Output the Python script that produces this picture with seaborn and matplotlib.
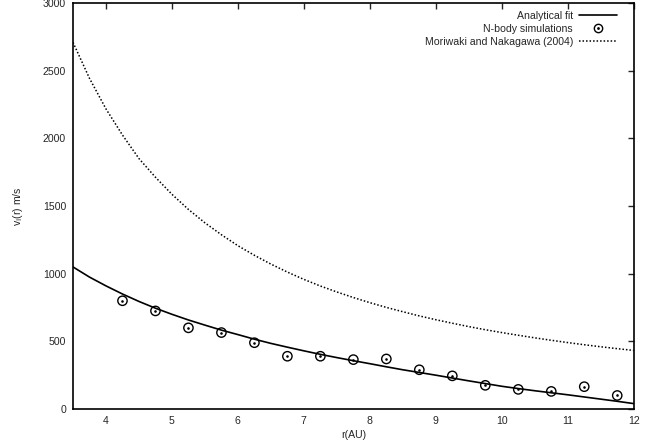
import numpy as np
import matplotlib
matplotlib.use("Agg")
import matplotlib.pyplot as plt
import pandas as pd
import seaborn as sns
from matplotlib.legend_handler import HandlerTuple

# N-body points
r_sim = [4.25, 4.75, 5.25, 5.75, 6.25, 6.75, 7.25, 7.75, 8.25, 8.75,
         9.25, 9.75, 10.25, 10.75, 11.25, 11.75]
v_sim = [800, 725, 600, 565, 490, 390, 390, 365, 370, 290,
         245, 175, 145, 130, 165, 100]

# curves, every 0.25 AU
r_curve = [3.5, 3.75, 4, 4.25, 4.5, 4.75, 5, 5.25, 5.5, 5.75, 6, 6.25, 6.5, 6.75,
           7, 7.25, 7.5, 7.75, 8, 8.25, 8.5, 8.75, 9, 9.25, 9.5, 9.75, 10, 10.25,
           10.5, 10.75, 11, 11.25, 11.5, 11.75, 12]
v_fit = [1050, 975, 910, 850, 795, 745, 700, 658, 620, 583, 550, 516, 485, 457,
         430, 404, 380, 357, 335, 312, 290, 270, 250, 229, 208, 188, 168, 151,
         135, 120, 105, 89, 73, 57, 40]
v_mn = [2710, 2444, 2218, 2025, 1851, 1713, 1587, 1475, 1376, 1288, 1207, 1136,
        1071, 1012, 958, 909, 865, 824, 786, 751, 719, 688, 660, 634, 609, 586,
        565, 545, 526, 508, 491, 475, 460, 446, 433]

sns.set_style("white")
plt.rcParams['font.family'] = ['Liberation Sans', 'DejaVu Sans']

df_sim = pd.DataFrame({"r": r_sim, "v": v_sim})
df_c = pd.DataFrame({"r": r_curve, "fit": v_fit, "mn": v_mn})

fig = plt.figure(figsize=(6.46, 4.47), dpi=100)
ax = fig.add_axes([0.113, 0.085, 0.868, 0.908])

dots = (0, (1, 1.3))
sns.lineplot(data=df_c, x="r", y="fit", ax=ax, color="black", lw=1.2)
sns.lineplot(data=df_c, x="r", y="mn", ax=ax, color="black", lw=1.1, linestyle=dots)
sns.scatterplot(data=df_sim, x="r", y="v", ax=ax, marker="o", s=45,
                facecolor="none", edgecolor="black", linewidth=1.0)
ax.scatter(r_sim, v_sim, marker=".", s=3, color="black")

h_fit = plt.Line2D([], [], color="black", lw=1.2)
h_c = plt.Line2D([], [], marker="o", ls="none", mfc="none", mec="black", ms=6, mew=1.0)
h_d = plt.Line2D([], [], marker=".", ls="none", color="black", ms=2)
h_mn = plt.Line2D([], [], color="black", lw=1.1, linestyle=dots)
ax.legend([h_fit, (h_c, h_d), h_mn],
          ["Analytical fit", "N-body simulations", "Moriwaki and Nakagawa (2004)"],
          handler_map={tuple: HandlerTuple(ndivide=1, pad=0)},
          loc="upper right", bbox_to_anchor=(0.984, 1.0), frameon=False,
          markerfirst=False, fontsize=7.6, handlelength=3.6, handletextpad=0.6,
          labelspacing=0.3, borderaxespad=0.3)

ax.set_xlim(3.5, 12)
ax.set_ylim(0, 3000)
ax.set_xticks([4, 5, 6, 7, 8, 9, 10, 11, 12])
ax.set_yticks([0, 500, 1000, 1500, 2000, 2500, 3000])
ax.tick_params(direction="in", length=4, width=1, labelsize=7.6, top=True, right=True,
               pad=5)
for s in ax.spines.values():
    s.set_linewidth(1.2)
    s.set_color("black")
ax.set_xlabel("r(AU)", fontsize=7.6, labelpad=3)
ax.set_ylabel(r"v$_\mathrm{i}$(r) m/s", fontsize=7.6, labelpad=13)

fig.savefig("out.png", dpi=100)
